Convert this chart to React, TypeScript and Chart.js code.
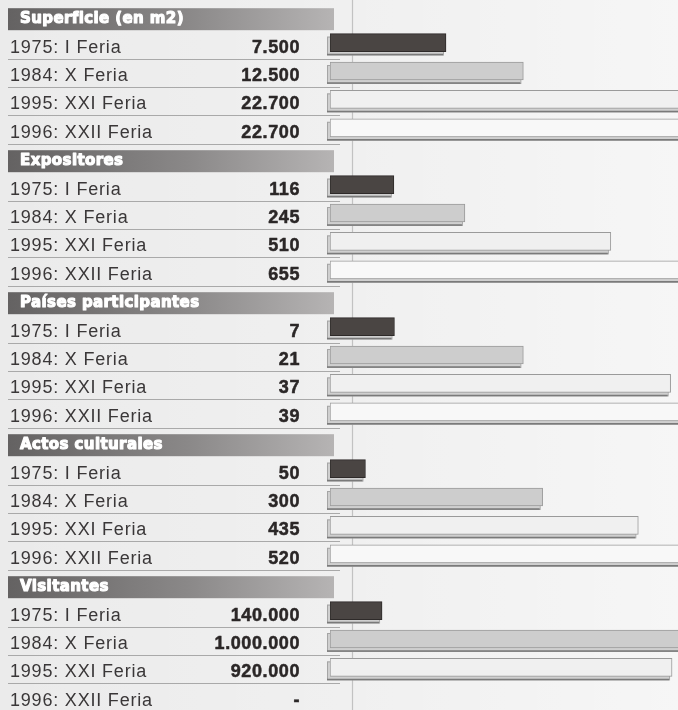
import React, { useEffect, useRef } from "react";
import { Chart, registerables } from "chart.js";

Chart.register(...registerables);

const sectionTitles = [
  "Superficie (en m2)",
  "Expositores",
  "Países participantes",
  "Actos culturales",
  "Visitantes",
];
const editions = ["1975: I Feria", "1984: X Feria", "1995: XXI Feria", "1996: XXII Feria"];
const superficie = [7500, 12500, 22700, 22700];
const expositores = [116, 245, 510, 655];
const paises = [7, 21, 37, 39];
const actos = [50, 300, 435, 520];
const visitantes: (number | null)[] = [140000, 1000000, 920000, null];

const sectionValues = [superficie, expositores, paises, actos, visitantes];
const sectionMax = [22500, 632, 37.8, 491, 936000];

const barFill = ["#4a4543", "#cdcdcd", "#f0f0f0", "#f8f8f8"];
const barBorder = ["#2e2a29", "#9a9a9a", "#9a9a9a", "#9a9a9a"];

function fmt(v: number | null) {
  if (v == null) return "-";
  return String(v).replace(/\B(?=(\d{3})+(?!\d))/g, ".");
}

const rowLabels: string[] = [];
sectionTitles.forEach((t) => {
  rowLabels.push(t);
  editions.forEach((e) => rowLabels.push(t + " / " + e));
});

export default function App() {
  const ref = useRef<HTMLCanvasElement | null>(null);

  useEffect(() => {
    const canvas = ref.current;
    if (!canvas) return;
    document.body.style.margin = "0";

    const datasets = sectionValues.map((vals, s) => {
      const data: (number | null)[] = rowLabels.map(() => null);
      const bg: string[] = rowLabels.map(() => "#fff");
      const bd: string[] = rowLabels.map(() => "#999");
      vals.forEach((v, j) => {
        data[s * 5 + 1 + j] = v;
        bg[s * 5 + 1 + j] = barFill[j];
        bd[s * 5 + 1 + j] = barBorder[j];
      });
      return {
        label: sectionTitles[s],
        data,
        xAxisID: "x" + s,
        backgroundColor: bg,
        borderColor: bd,
        borderWidth: 1,
        borderSkipped: false,
        barThickness: 18,
        grouped: false,
      };
    });

    const scales: any = {
      y: { type: "category", display: false, offset: true, grid: { display: false } },
    };
    sectionMax.forEach((m, s) => {
      scales["x" + s] = { type: "linear", display: false, min: 0, max: m, position: "bottom" };
    });

    const decor = {
      id: "decor",
      beforeDraw(chart: any) {
        const ctx = chart.ctx;
        const W = chart.width;
        const H = chart.height;
        const y = chart.scales.y;
        ctx.save();
        ctx.fillStyle = "#ebebeb";
        ctx.fillRect(0, 0, W, H);
        const g = ctx.createLinearGradient(0, 0, W, 0);
        g.addColorStop(0, "rgba(255,255,255,0)");
        g.addColorStop(0.5, "rgba(255,255,255,0.25)");
        g.addColorStop(1, "rgba(255,255,255,0.55)");
        ctx.fillStyle = g;
        ctx.fillRect(0, 0, W, H);

        // fold line
        ctx.strokeStyle = "#c2c2c2";
        ctx.lineWidth = 1.2;
        ctx.beginPath();
        ctx.moveTo(352.5, 0);
        ctx.lineTo(352.5, H);
        ctx.stroke();

        rowLabels.forEach((_, i) => {
          const cy = y.getPixelForValue(i);
          const s = Math.floor(i / 5);
          const j = (i % 5) - 1;
          if (j < 0) {
            const hg = ctx.createLinearGradient(8, 0, 334, 0);
            hg.addColorStop(0, "#646262");
            hg.addColorStop(0.55, "#8a8888");
            hg.addColorStop(1, "#b6b4b4");
            ctx.fillStyle = hg;
            ctx.fillRect(8, cy - 6, 326, 22);
            ctx.fillStyle = "#ffffff";
            ctx.strokeStyle = "#ffffff";
            ctx.lineWidth = 1.1;
            ctx.lineJoin = "round";
            ctx.font = "bold 15px 'DejaVu Sans'";
            (ctx as any).letterSpacing = "0.4px";
            ctx.textAlign = "left";
            ctx.textBaseline = "middle";
            ctx.fillText(sectionTitles[s], 20, cy + 5);
            ctx.strokeText(sectionTitles[s], 20, cy + 5);
            (ctx as any).letterSpacing = "0px";
          } else {
            ctx.strokeStyle = "#a9a9a9";
            ctx.lineWidth = 1;
            ctx.beginPath();
            ctx.moveTo(8, Math.round(cy + 16) + 0.5);
            ctx.lineTo(340, Math.round(cy + 16) + 0.5);
            ctx.stroke();

            ctx.fillStyle = "#3a3738";
            ctx.font = "18px 'Liberation Sans'";
            (ctx as any).letterSpacing = "0.8px";
            ctx.textAlign = "left";
            ctx.textBaseline = "middle";
            ctx.fillText(editions[j], 10, cy + 5);

            ctx.fillStyle = "#2b2727";
            ctx.strokeStyle = "#2b2727";
            ctx.lineWidth = 0.5;
            ctx.font = "bold 18px 'Liberation Sans'";
            (ctx as any).letterSpacing = "0.6px";
            ctx.textAlign = "right";
            const t = fmt(sectionValues[s][j]);
            ctx.fillText(t, 300, cy + 5);
            ctx.strokeText(t, 300, cy + 5);
            (ctx as any).letterSpacing = "0px";
          }
        });
        ctx.restore();
      },
      beforeDatasetsDraw(chart: any) {
        const ctx = chart.ctx;
        const area = chart.chartArea;
        ctx.save();
        ctx.beginPath();
        ctx.rect(area.left - 6, area.top, area.right - area.left + 6, area.bottom - area.top);
        ctx.clip();
        chart.data.datasets.forEach((_: any, d: number) => {
          const meta = chart.getDatasetMeta(d);
          meta.data.forEach((el: any, i: number) => {
            const v = chart.data.datasets[d].data[i];
            if (v == null) return;
            const { x, y, base, height } = el.getProps(["x", "y", "base", "height"], true);
            const top = y - height / 2;
            ctx.fillStyle = "#cfcfcf";
            ctx.fillRect(base - 3, top + 3, x - base, height);
            ctx.strokeStyle = "#a5a5a5";
            ctx.lineWidth = 1;
            ctx.strokeRect(base - 3 + 0.5, top + 3 + 0.5, x - base, height);
            ctx.strokeStyle = "#7a7a7a";
            ctx.lineWidth = 1.5;
            ctx.beginPath();
            ctx.moveTo(base - 3, top + height + 3);
            ctx.lineTo(x - 3, top + height + 3);
            ctx.stroke();
          });
        });
        ctx.restore();
      },
    };

    const chart = new Chart(canvas, {
      type: "bar",
      data: { labels: rowLabels, datasets: datasets as any },
      options: {
        indexAxis: "y",
        animation: false,
        responsive: false,
        maintainAspectRatio: false,
        layout: { padding: { left: 330, right: 0, top: 0, bottom: 0 } },
        scales,
        plugins: { legend: { display: false }, tooltip: { enabled: false } },
      },
      plugins: [decor],
    });
    return () => chart.destroy();
  }, []);

  return (
    <div style={{ position: "absolute", left: 0, top: 0, width: 678, height: 710 }}>
      <canvas ref={ref} width={678} height={710} style={{ display: "block" }} />
    </div>
  );
}
